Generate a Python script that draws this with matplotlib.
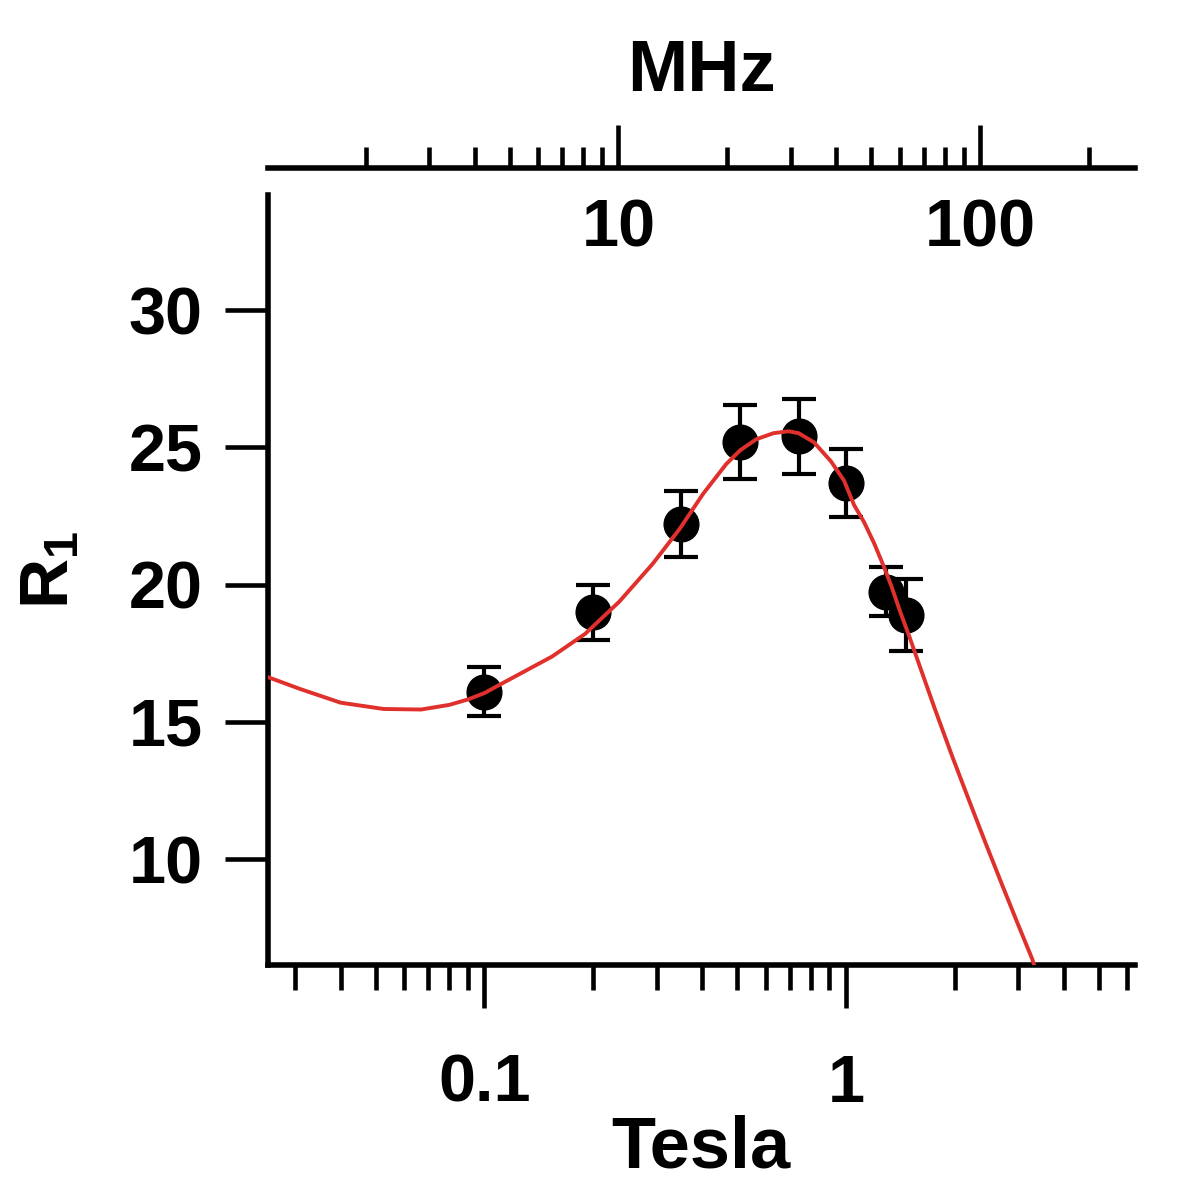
import matplotlib
matplotlib.use('Agg')
import matplotlib.pyplot as plt

plt.rcParams['font.family'] = ['Liberation Sans', 'DejaVu Sans']
plt.rcParams['font.weight'] = 'bold'
plt.rcParams['mathtext.fontset'] = 'custom'
plt.rcParams['mathtext.rm'] = 'Liberation Sans:bold'
plt.rcParams['mathtext.bf'] = 'Liberation Sans:bold'

# measured points (Tesla, R1, error)
tesla = [0.1, 0.2, 0.35, 0.51, 0.74, 1.0, 1.29, 1.47]
r1 = [16.1, 19.0, 22.2, 25.2, 25.4, 23.7, 19.75, 18.9]
r1_err = [0.9, 1.0, 1.2, 1.35, 1.35, 1.25, 0.9, 1.3]

# fitted curve
fit_t = [0.0252, 0.0309, 0.040, 0.0526, 0.0668, 0.080, 0.0902, 0.1, 0.1137,
         0.1538, 0.190, 0.236, 0.292, 0.347, 0.402, 0.466, 0.51, 0.565, 0.63,
         0.694, 0.74, 0.815, 0.908, 0.987, 1.053, 1.122, 1.197, 1.276, 1.335,
         1.41, 1.498, 1.577, 1.758, 1.961, 2.173, 2.423, 2.703, 2.995, 3.276,
         3.34]
fit_r = [16.63, 16.2, 15.7, 15.47, 15.45, 15.62, 15.82, 16.05, 16.45,
         17.38, 18.21, 19.38, 20.76, 22.04, 23.3, 24.39, 24.9, 25.3, 25.52,
         25.59, 25.52, 25.19, 24.5, 23.8, 22.9, 22.28, 21.5, 20.62, 19.95,
         19.04, 18.1, 17.26, 15.5, 13.79, 12.25, 10.64, 9.06, 7.6, 6.35,
         6.0]

mhz_per_tesla = 42.58
xlim = (0.0252, 6.3)
ylim = (6.14, 34.2)

fig = plt.figure(figsize=(12, 11.88), dpi=100)
ax = fig.add_axes([268/1200, 223/1188, 867/1200, 770/1188])

ax.errorbar(tesla, r1, yerr=r1_err, fmt='o', color='black', ms=25,
            elinewidth=3, capsize=12, capthick=3, zorder=3)
ax.plot(fit_t, fit_r, color='#e0302c', lw=2.8, zorder=4)

ax.set_xscale('log')
ax.set_xlim(xlim)
ax.set_ylim(ylim)
ax.set_xticks([0.1, 1], ['0.1', '1'])
ax.set_xticks([0.03, 0.04, 0.05, 0.06, 0.07, 0.08, 0.09,
               0.2, 0.3, 0.4, 0.5, 0.6, 0.7, 0.8, 0.9,
               2, 3, 4, 5, 6], minor=True)
ax.xaxis.set_minor_formatter(matplotlib.ticker.NullFormatter())
ax.set_yticks([10, 15, 20, 25, 30])
ax.spines['top'].set_visible(False)
ax.spines['right'].set_visible(False)
for s in ['left', 'bottom']:
    ax.spines[s].set_linewidth(4)
ax.tick_params(axis='x', which='major', direction='out', length=31, width=3.3,
               pad=33, labelsize=48)
ax.tick_params(axis='x', which='minor', direction='out', length=18, width=3.3)
ax.tick_params(axis='y', which='major', direction='out', length=31, width=3.3,
               pad=16, labelsize=48)

# top MHz axis, floating above the plot
top = fig.add_axes([268/1200, 1020/1188, 867/1200, 0.05])
top.set_xscale('log')
top.set_xlim(xlim[0]*mhz_per_tesla, xlim[1]*mhz_per_tesla)
top.patch.set_visible(False)
for s in ['top', 'left', 'right']:
    top.spines[s].set_visible(False)
top.spines['bottom'].set_linewidth(4)
top.set_yticks([])
top.set_xticks([10, 100], ['10', '100'])
top.set_xticks([2, 3, 4, 5, 6, 7, 8, 9, 20, 30, 40, 50, 60, 70, 80, 90, 200],
               minor=True)
top.xaxis.set_minor_formatter(matplotlib.ticker.NullFormatter())
top.tick_params(axis='x', which='major', direction='in', length=31, width=3.3,
                pad=22, labelsize=48)
top.tick_params(axis='x', which='minor', direction='in', length=15, width=3.3)

fig.text(701/1200, 1 - 72/1188, 'MHz', ha='center', va='center', fontsize=52)
fig.text(701/1200, 1 - 1148/1188, 'Tesla', ha='center', va='center', fontsize=52)
fig.text(50/1200, 1 - 570/1188, r'$\mathbf{R_1}$', ha='center', va='center',
         fontsize=50, rotation=90)

fig.savefig('out.png', dpi=100)
